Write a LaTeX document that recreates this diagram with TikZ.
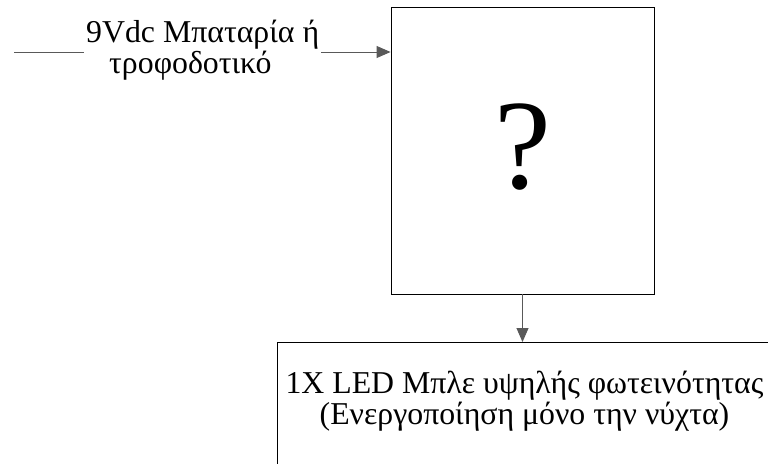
\documentclass[tikz,border=0pt]{standalone}
\usepackage{fontspec}
\setmainfont{Liberation Serif}
\usetikzlibrary{arrows.meta}
\begin{document}
\begin{tikzpicture}[x=1pt,y=1pt,>={Triangle[length=14pt,width=12pt]},
  box/.style={draw,line width=0.9pt,inner sep=0pt},
  wire/.style={line width=1pt,draw=black!65},
  txt/.style={font=\fontsize{31.8pt}{31pt}\selectfont,inner sep=2pt}]
\useasboundingbox(0,0)rectangle(768,-463);
\clip(0,0)rectangle(768,-463);
\node[box,minimum width=263pt,minimum height=287pt](ctrl)at(522.5,-150.5){};
\node[font=\fontsize{128pt}{140pt}\selectfont](qmark)at(522.5,-147){?};
\node[box,anchor=north west,minimum width=493pt,minimum height=160pt](led)at(277,-342){};
\node[txt,align=center,anchor=base](ledtxt)at(524.5,-424){1X LED Μπλε υψηλής φωτεινότητας\\
  (Ενεργοποίηση μόνο την νύχτα)};
\coordinate(in)at(14,-52);
\draw[wire,->](in)--(in-|ctrl.west);
\node[txt,fill=white,align=left,anchor=base west](supply)at(84,-73){9Vdc Μπαταρία ή\\
  \hspace*{23pt}τροφοδοτικό};
\draw[wire,->](ctrl.south)--(led.north-|ctrl.south);
\end{tikzpicture}
\end{document}
